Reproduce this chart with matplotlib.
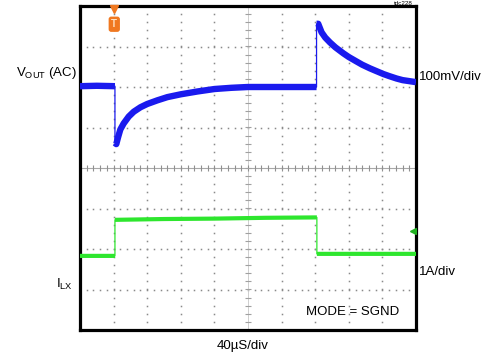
import numpy as np
import matplotlib.pyplot as plt

plt.rcParams['font.family'] = ['Liberation Sans', 'DejaVu Sans']

# Trace data in screen divisions (x: 0..10 div of 40us, y: -4..4 div)
vout_x = [0.0, 0.5, 1.04, 1.04, 1.08, 1.13, 1.2, 1.3, 1.45, 1.6, 1.8, 2.0, 2.3, 2.6, 3.0, 3.5, 4.0, 4.5, 5.0,
          6.0, 7.04, 7.04, 7.09, 7.19, 7.3, 7.44, 7.6, 7.84, 8.0, 8.23, 8.4, 8.63, 8.8, 9.03, 9.2, 9.42, 9.6, 10.0]
vout_y = [2.02, 2.03, 2.02, 0.62, 0.59, 0.75, 0.95, 1.1, 1.27, 1.39, 1.5, 1.58, 1.67, 1.75, 1.82, 1.89, 1.95, 1.98, 2.0,
          2.0, 2.0, 3.56, 3.56, 3.35, 3.22, 3.10, 2.98, 2.83, 2.74, 2.63, 2.55, 2.46, 2.40, 2.32, 2.27, 2.21, 2.17, 2.12]

ilx_x = [0.0, 1.04, 1.04, 2.5, 4.0, 5.5, 7.05, 7.05, 8.5, 10.0]
ilx_y = [-2.17, -2.17, -1.28, -1.26, -1.25, -1.23, -1.22, -2.12, -2.12, -2.12]

trig_x = 1.02       # trigger position (div)
gnd_level = -1.56   # channel 2 ground marker (div)


def draw_trace(ax, xs, ys, color, lw):
    xs = np.array(xs, dtype=float)
    ys = np.array(ys, dtype=float)
    # thin line everywhere (fast edges look thin on the scope)
    ax.plot(xs, ys, color=color, lw=0.9, zorder=4)
    # thick noisy band on the slow parts, broken at the vertical edges
    bx, by = [xs[0]], [ys[0]]
    for i in range(1, len(xs)):
        if xs[i] == xs[i - 1]:
            bx.append(np.nan)
            by.append(np.nan)
        bx.append(xs[i])
        by.append(ys[i])
    ax.plot(bx, by, color=color, lw=lw, solid_capstyle='butt', solid_joinstyle='round', zorder=5)


fig = plt.figure(figsize=(4.97, 3.56), dpi=100)
ax = fig.add_axes([80 / 497, 26 / 356, 336 / 497, 324 / 356])
ax.set_xlim(0, 10)
ax.set_ylim(-4, 4)

# dotted graticule
minor_x = np.arange(0, 10.01, 0.2)
minor_y = np.arange(-4, 4.01, 0.2)
for gx in range(1, 10):
    if gx == 5:
        continue
    ax.plot(np.full_like(minor_y, gx), minor_y, ls='none', marker='s', ms=1.1, mew=0, color='#8a8a8a', zorder=1)
for gy in range(-3, 4):
    if gy == 0:
        continue
    ax.plot(minor_x, np.full_like(minor_x, gy), ls='none', marker='s', ms=1.1, mew=0, color='#8a8a8a', zorder=1)

# center cross with small ticks
ax.axhline(0, color='#a8a8a8', lw=0.8, zorder=1)
ax.axvline(5, color='#c8c8c8', lw=0.6, zorder=1)
ax.plot(minor_x, np.zeros_like(minor_x), ls='none', marker='|', ms=4, mew=0.8, color='#909090', zorder=1)
ax.plot(np.full_like(minor_y, 5), minor_y, ls='none', marker='_', ms=4, mew=0.8, color='#a0a0a0', zorder=1)

# traces
draw_trace(ax, vout_x, vout_y, '#1a1aee', 4.6)
draw_trace(ax, ilx_x, ilx_y, '#2ee62e', 3.0)

# trigger and ground markers
ax.plot([trig_x], [3.93], marker='v', ms=6, color='#f07820', clip_on=False, zorder=6)
ax.text(trig_x, 3.55, 'T', color='#ffe0c0', fontsize=7, fontweight='bold', ha='center', va='center', zorder=6,
        bbox=dict(boxstyle='round,pad=0.2', fc='#f07820', ec='#f07820'))
ax.plot([9.92], [gnd_level], marker='<', ms=5, color='#20b020', zorder=6)

# frame
ax.set_xticks([])
ax.set_yticks([])
for sp in ax.spines.values():
    sp.set_linewidth(2.3)
    sp.set_color('black')

# labels around the screen
fig.text(77 / 497, 1 - 73 / 356, 'V$_{\\mathregular{OUT}}$ (AC)', ha='right', va='center', fontsize=9.5)
fig.text(419 / 497, 1 - 77 / 356, '100mV/div', ha='left', va='center', fontsize=9.5)
fig.text(73 / 497, 1 - 284 / 356, 'I$_{\\mathregular{LX}}$', ha='right', va='center', fontsize=9.5)
fig.text(419 / 497, 1 - 272 / 356, '1A/div', ha='left', va='center', fontsize=9.5)
fig.text(243 / 497, 1 - 346 / 356, '40\u00b5S/div', ha='center', va='center', fontsize=9.5)
ax.text(8.1, -3.55, 'MODE = SGND', ha='center', va='center', fontsize=9.5)
fig.text(403 / 497, 0.998, 'tdc228', ha='center', va='top', fontsize=4.5)

fig.savefig('out.png', dpi=100)
